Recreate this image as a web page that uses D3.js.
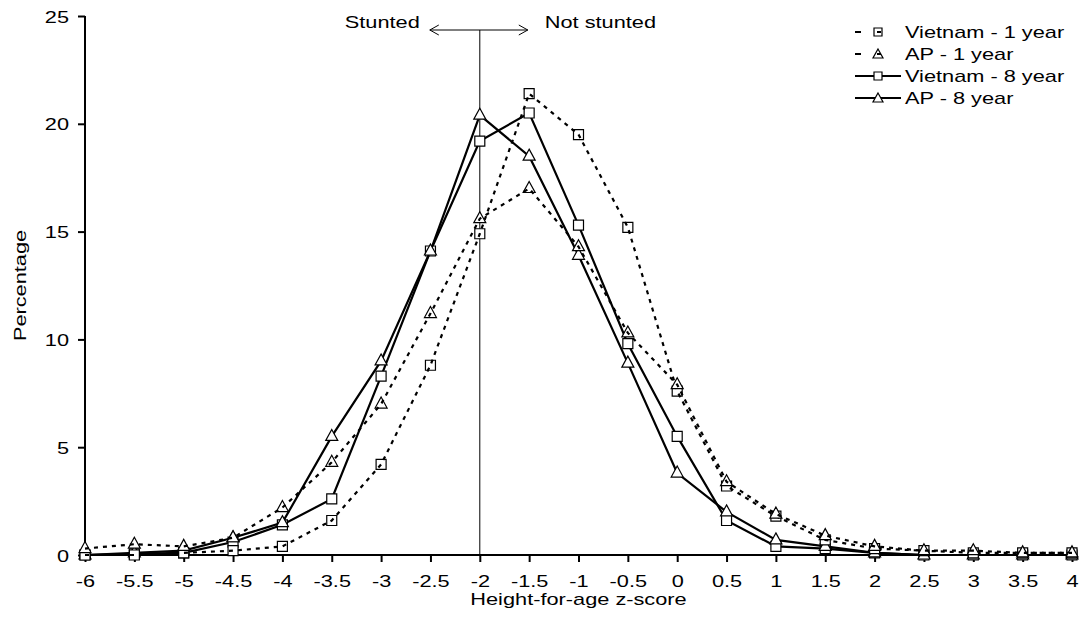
<!DOCTYPE html>
<html>
<head>
<meta charset="utf-8">
<script src="https://cdn.jsdelivr.net/npm/d3@7"></script>
<style>
  body { margin: 0; background: #fff; }
  svg { font-family: "Liberation Sans", Arial, sans-serif; }
</style>
</head>
<body>
<svg width="1086" height="642"></svg>
<script>
"use strict";

// z-score bins
const zScores = [-6, -5.5, -5, -4.5, -4, -3.5, -3, -2.5, -2, -1.5, -1, -0.5, 0, 0.5, 1, 1.5, 2, 2.5, 3, 3.5, 4]
const yTicks = [0, 5, 10, 15, 20, 25]

const vietnam1 = [0, 0, 0.1, 0.2, 0.4, 1.6, 4.2, 8.8, 14.9, 21.4, 19.5, 15.2, 7.6, 3.2, 1.8, 0.7, 0.3, 0.2, 0.1, 0.1, 0.1]
const ap1      = [0.3, 0.5, 0.4, 0.8, 2.2, 4.3, 7.0, 11.2, 15.6, 17.0, 14.3, 10.3, 7.9, 3.4, 1.9, 0.9, 0.4, 0.2, 0.2, 0.1, 0.1]
const vietnam8 = [0, 0.05, 0.1, 0.6, 1.4, 2.6, 8.3, 14.1, 19.2, 20.5, 15.3, 9.8, 5.5, 1.6, 0.4, 0.3, 0.1, 0, 0, 0, 0]
const ap8      = [0, 0.1, 0.2, 0.8, 1.5, 5.5, 9.0, 14.1, 20.4, 18.5, 13.9, 8.9, 3.8, 2.0, 0.7, 0.4, 0.1, 0, 0, 0, 0]

const series = [
	{name: 'Vietnam - 1 year', values: vietnam1, marker: 'square', dashed: true},
	{name: 'AP - 1 year', values: ap1, marker: 'triangle', dashed: true},
	{name: 'Vietnam - 8 year', values: vietnam8, marker: 'square', dashed: false},
	{name: 'AP - 8 year', values: ap8, marker: 'triangle', dashed: false},
]

// the source font is a wide Arial: a bit shorter, noticeably wider
const FS = 17, SX = 1.28
const svg = d3.select('svg')
const x = d3.scaleLinear().domain([-6, 4]).range([85, 1072])
const y = d3.scaleLinear().domain([0, 25]).range([555, 16])

// text placed at (tx, ty) and stretched horizontally about that point
function label(parent, tx, ty, str, anchor, rot) {
	return parent.append('text')
		.attr('transform', `translate(${tx},${ty})${rot ? ` rotate(${rot})` : ''} scale(${SX},1)`)
		.attr('text-anchor', anchor || 'start')
		.attr('font-size', FS)
		.attr('fill', '#000')
		.text(str)
}

// axes
const xAxis = svg.append('g')
	.attr('transform', `translate(0,${y(0)})`)
	.call(d3.axisBottom(x).tickValues(zScores).tickSize(7).tickFormat(d => d))
const yAxis = svg.append('g')
	.attr('transform', `translate(${x(-6)},0)`)
	.call(d3.axisLeft(y).tickValues(yTicks).tickSize(7))
for (const ax of [xAxis, yAxis]) {
	ax.select('.domain').attr('stroke', '#000').attr('stroke-width', 2)
	ax.selectAll('.tick line').attr('stroke', '#000').attr('stroke-width', 2)
	ax.selectAll('.tick text').attr('fill', '#000').attr('font-size', FS)
		.style('font-family', '"Liberation Sans", Arial, sans-serif')
		.attr('x', null).attr('y', null).attr('dy', null)
}
xAxis.selectAll('.tick text').attr('transform', `translate(0,32) scale(${SX},1)`)
yAxis.selectAll('.tick text').attr('transform', `translate(-16,6) scale(${SX},1)`)
xAxis.select('.domain').attr('d', `M${x(-6)},0H${x(4)}`)
yAxis.select('.domain').attr('d', `M0,${y(0)}V${y(25)}`)

label(svg, x(-1), 605, 'Height-for-age z-score', 'middle')
label(svg, 26, y(12.5), 'Percentage', 'middle', -90)

// stunting cut-off
const arrowY = 30
svg.append('line')
	.attr('x1', x(-2)).attr('x2', x(-2))
	.attr('y1', arrowY).attr('y2', y(0))
	.attr('stroke', '#000').attr('stroke-width', 1)
const ax1 = x(-2) - 50, ax2 = x(-2) + 48
svg.append('path')
	.attr('d', `M${ax1},${arrowY}H${ax2} M${ax1 + 9},${arrowY - 5}L${ax1},${arrowY}L${ax1 + 9},${arrowY + 5} M${ax2 - 9},${arrowY - 5}L${ax2},${arrowY}L${ax2 - 9},${arrowY + 5}`)
	.attr('fill', 'none').attr('stroke', '#000').attr('stroke-width', 1)
label(svg, ax1 - 10, 28, 'Stunted', 'end')
label(svg, ax2 + 17, 28, 'Not stunted')

const markerPath = (type, cx, cy) => type == 'square'
	? `M${cx - 5},${cy - 5}h10v10h-10Z`
	: `M${cx},${cy - 7}L${cx + 6},${cy + 4}L${cx - 6},${cy + 4}Z`

const line = d3.line().x((d, i) => x(zScores[i])).y(d => y(d))

function drawSeries(s) {
	const g = svg.append('g')
	const ln = () => g.append('path')
		.attr('d', line(s.values))
		.attr('fill', 'none').attr('stroke', '#000')
		.attr('stroke-width', 2.2)
		.attr('stroke-dasharray', s.dashed ? '4,5' : null)
	if (!s.dashed) ln()
	g.selectAll('path.mk').data(s.values).enter().append('path')
		.attr('class', 'mk')
		.attr('d', (d, i) => markerPath(s.marker, x(zScores[i]), y(d)))
		.attr('fill', '#fff').attr('stroke', '#000').attr('stroke-width', 1.2)
	if (s.dashed) ln()
}
// solid first so dashed series sit on top like the reference
drawSeries(series[2])
drawSeries(series[3])
drawSeries(series[0])
drawSeries(series[1])

// legend
const leg = svg.append('g').attr('transform', 'translate(855,32)')
series.forEach((s, i) => {
	const row = leg.append('g').attr('transform', `translate(0,${i * 22})`)
	row.append('path')
		.attr('d', s.dashed ? 'M0,0h6M20,0h6' : 'M0,0h46')
		.attr('stroke', '#000').attr('stroke-width', 2.2)
	row.append('path')
		.attr('d', s.marker == 'square' ? 'M19,-4h8v8h-8Z' : 'M23,-5L28,4L18,4Z')
		.attr('fill', '#fff').attr('stroke', '#000').attr('stroke-width', 1.2)
	if (s.dashed) row.append('path').attr('d', 'M22,0h4').attr('stroke', '#000').attr('stroke-width', 2)
	label(row, 50, 6, s.name)
})
</script>
</body>
</html>
